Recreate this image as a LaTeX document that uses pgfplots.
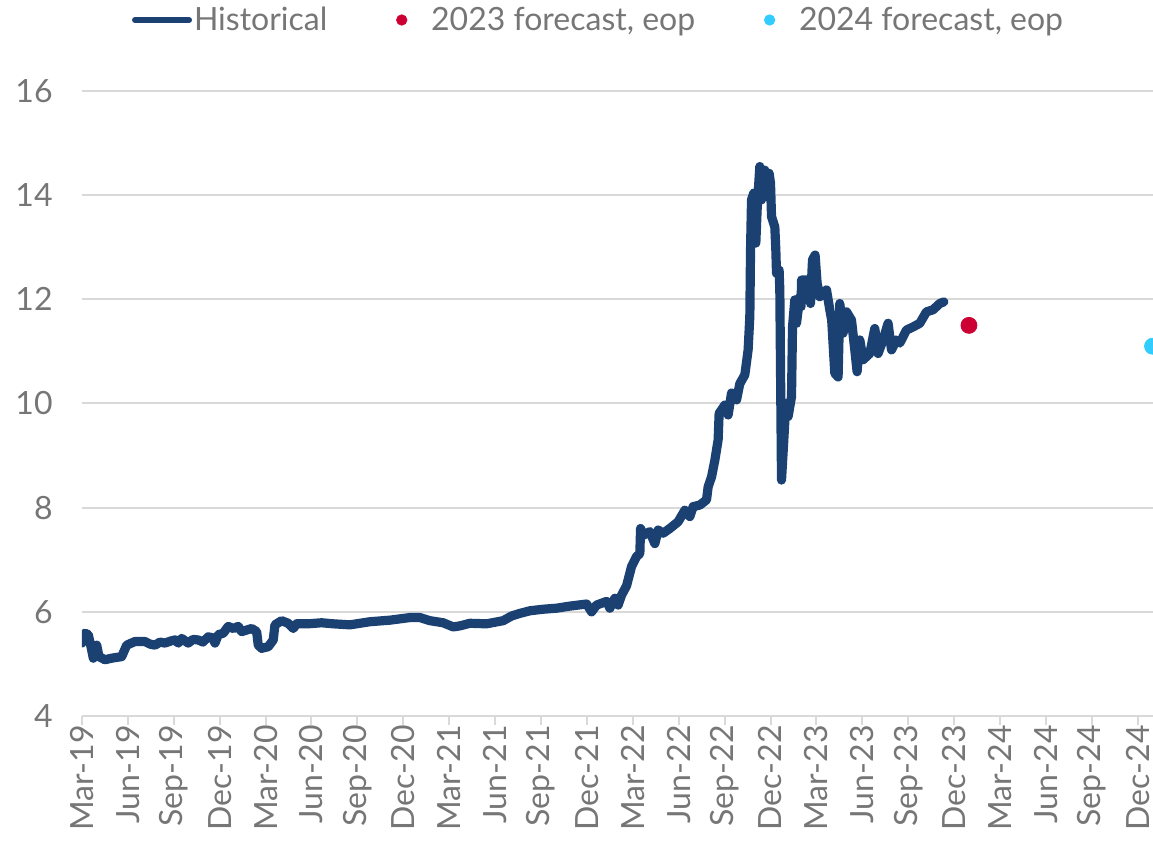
\documentclass[border=0pt]{standalone}
\usepackage{pgfplots}
\pgfplotsset{compat=1.18}
\usepackage{fontspec}
\setmainfont{Lato}

\definecolor{histblue}{HTML}{1B4173}
\definecolor{fcred}{HTML}{CC0033}
\definecolor{fccyan}{HTML}{33CCFF}
\definecolor{labelgray}{HTML}{767676}
\definecolor{gridgray}{HTML}{D9D9D9}

\begin{document}
\begin{tikzpicture}
\begin{axis}[
  name=ax,
  scale only axis,
  width=535.5pt, height=312.5pt,
  xmin=0, xmax=70,
  ymin=4, ymax=16,
  ytick={4,6,...,16},
  xtick={0,3,...,69},
  xticklabels={Mar-19,Jun-19,Sep-19,Dec-19,Mar-20,Jun-20,Sep-20,Dec-20,
               Mar-21,Jun-21,Sep-21,Dec-21,Mar-22,Jun-22,Sep-22,Dec-22,
               Mar-23,Jun-23,Sep-23,Dec-23,Mar-24,Jun-24,Sep-24,Dec-24},
  axis lines*=left,
  x axis line style={draw=gridgray, line width=1pt},
  y axis line style={draw=none},
  ymajorgrids,
  major grid style={draw=gridgray, line width=1pt},
  tick align=outside,
  major tick length=4.5pt,
  xtick style={draw=gridgray, line width=1pt},
  ytick style={draw=none},
  tick label style={font=\fontsize{16}{16}\selectfont, text=labelgray},
  /pgf/number format/assume math mode=true,
  xticklabel style={rotate=90, anchor=east, inner sep=0pt},
  yticklabel style={anchor=east, inner sep=0pt, xshift=-10pt},
  legend columns=3,
  legend style={
    at={(axis description cs:0.0467,1.1136)}, anchor=west,
    draw=none, fill=none, inner sep=0pt, outer sep=0pt,
    font=\fontsize{16}{16}\selectfont, text=labelgray,
    nodes={inner sep=1pt},
    /tikz/every even column/.append style={column sep=22.5pt},
  },
  legend cell align=left,
]
% exchange-rate history, daily closes thinned to turning points
\addplot[histblue, line width=4.6pt, line join=round, line cap=round,
  legend image code/.code={\draw[histblue, line width=3pt, line cap=round] (0pt,0pt) -- (27pt,0pt);}]
coordinates {
(0,5.40)(0.196,5.59)(0.412,5.56)(0.588,5.33)(0.738,5.11)(0.961,5.36)
(1.111,5.14)(1.503,5.08)(1.941,5.11)(2.594,5.14)(2.921,5.36)(3.463,5.43)
(4.117,5.43)(4.450,5.38)(4.770,5.36)(5.100,5.42)(5.423,5.40)(5.800,5.44)
(6.077,5.46)(6.300,5.40)(6.515,5.49)(6.946,5.40)(7.250,5.47)(7.599,5.46)
(7.900,5.42)(8.253,5.52)(8.550,5.50)(8.691,5.40)(8.906,5.56)(9.233,5.59)
(9.560,5.72)(9.900,5.68)(10.213,5.72)(10.435,5.62)(11.089,5.68)(11.415,5.62)
(11.520,5.36)(11.742,5.30)(12.173,5.33)(12.500,5.46)(12.611,5.75)(13.049,5.83)
(13.480,5.78)(13.807,5.68)(14.029,5.77)(14.787,5.77)(15.663,5.79)(16.421,5.77)
(17.512,5.75)(18.819,5.81)(20.126,5.84)(21.432,5.89)(22.086,5.89)(22.739,5.83)
(23.608,5.79)(24.262,5.71)(24.699,5.73)(25.353,5.78)(26.444,5.77)(27.529,5.83)
(28.078,5.92)(28.620,5.97)(29.274,6.02)(30.143,6.05)(31.018,6.07)(31.887,6.11)
(32.978,6.15)(33.305,6.00)(33.632,6.13)(34.285,6.20)(34.501,6.07)(34.828,6.26)
(35.043,6.13)(35.265,6.32)(35.592,6.50)(35.919,6.87)(36.245,7.06)(36.461,7.12)
(36.507,7.60)(36.677,7.47)(37.115,7.54)(37.441,7.31)(37.657,7.57)(37.984,7.51)
(38.421,7.60)(38.964,7.73)(39.401,7.95)(39.728,7.83)(39.944,8.02)(40.382,8.05)
(40.819,8.15)(40.924,8.40)(41.146,8.59)(41.362,8.91)(41.577,9.30)(41.643,9.81)
(42.015,9.97)(42.231,9.78)(42.453,10.20)(42.780,10.07)(42.995,10.38)(43.322,10.55)
(43.538,11.03)(43.649,11.67)(43.695,12.95)(43.760,13.91)(43.910,14.04)(44.041,13.08)
(44.126,13.72)(44.302,14.55)(44.413,13.91)(44.629,14.48)(44.779,13.97)(44.910,14.42)
(45.001,14.23)(45.067,13.59)(45.282,13.39)(45.348,12.95)(45.393,12.50)(45.563,12.56)
(45.609,12.18)(45.720,8.53)(45.870,9.30)(46.001,10.00)(46.151,9.75)(46.373,10.13)
(46.439,11.47)(46.589,11.99)(46.700,11.54)(46.916,12.05)(47.000,11.86)(47.027,12.37)
(47.569,12.37)(47.615,11.92)(47.746,12.76)(47.915,12.85)(48.046,12.31)(48.223,12.05)
(48.660,12.18)(48.876,11.80)(49.000,11.60)(49.203,10.58)(49.418,10.51)(49.529,11.92)
(49.745,11.35)(49.967,11.76)(50.294,11.60)(50.510,11.03)(50.660,10.61)(50.836,11.22)
(51.052,10.84)(51.490,10.96)(51.816,11.44)(52.032,10.96)(52.359,11.22)(52.685,11.54)
(52.908,11.03)(53.234,11.22)(53.450,11.16)(53.887,11.41)(54.319,11.47)(54.757,11.54)
(55.194,11.76)(55.626,11.80)(56.064,11.92)(56.325,11.95)
};
\addlegendentry{Historical}
% end-of-period forecasts
\addplot[only marks, mark=*, mark size=4pt, color=fcred, fill=fcred,
  legend image code/.code={\fill[fcred] (13.5pt,0pt) circle (2.6pt); \path (0pt,0pt) (27pt,0pt);}]
coordinates {(57.97,11.5)};
\addlegendentry{2023 forecast, eop}
\addplot[only marks, mark=*, mark size=4pt, color=fccyan, fill=fccyan,
  legend image code/.code={\fill[fccyan] (13.5pt,0pt) circle (2.6pt); \path (0pt,0pt) (27pt,0pt);}]
coordinates {(69.97,11.1)};
\addlegendentry{2024 forecast, eop}
\end{axis}
\pgfresetboundingbox
\path[use as bounding box] ([shift={(-41pt,-65pt)}]ax.south west) rectangle ([shift={(0pt,45.5pt)}]ax.north east);
\end{tikzpicture}
\end{document}
